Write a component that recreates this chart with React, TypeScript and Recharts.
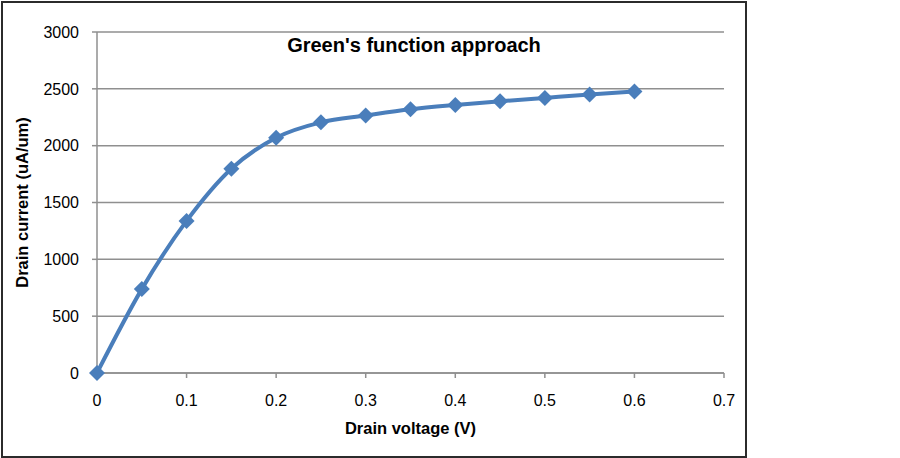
import { LineChart, Line, XAxis, YAxis, CartesianGrid } from "recharts";

const voltage = [0, 0.05, 0.1, 0.15, 0.2, 0.25, 0.3, 0.35, 0.4, 0.45, 0.5, 0.55, 0.6];
const current = [0, 738, 1338, 1797, 2070, 2205, 2265, 2320, 2358, 2390, 2420, 2450, 2476];
const xTicks = [0, 0.1, 0.2, 0.3, 0.4, 0.5, 0.6, 0.7];
const yTicks = [0, 500, 1000, 1500, 2000, 2500, 3000];

const data = voltage.map((v, i) => ({ v, id: current[i] }));

const font = "'Liberation Sans', Arial, sans-serif";
const blue = "#4a7ebb";

const Diamond = (props: any) => {
  const { cx, cy } = props;
  const r = 8;
  return (
    <polygon
      points={`${cx},${cy - r} ${cx + r},${cy} ${cx},${cy + r} ${cx - r},${cy}`}
      fill={blue}
    />
  );
};

export default function App() {
  return (
    <div style={{ position: "absolute", left: 0, top: 0, width: 900, height: 458, background: "#fff", fontFamily: font }}>
      <div
        style={{
          position: "absolute",
          left: 1,
          top: 1,
          width: 746,
          height: 457,
          border: "2px solid #2b2b2b",
          boxSizing: "border-box",
        }}
      />
      <div
        style={{
          position: "absolute",
          left: 214,
          width: 400,
          top: 33,
          textAlign: "center",
          fontSize: 20,
          fontWeight: "bold",
          color: "#000",
          lineHeight: "24px",
        }}
      >
        Green's function approach
      </div>
      <div style={{ position: "absolute", left: 0, top: 0 }}>
        <LineChart
          width={900}
          height={458}
          data={data}
          margin={{ top: 32, right: 176, left: 0, bottom: 0 }}
        >
          <CartesianGrid vertical={false} stroke="#8f8f8f" strokeWidth={1.5} />
          <XAxis
            dataKey="v"
            type="number"
            domain={[0, 0.7]}
            ticks={xTicks}
            height={85}
            stroke="#8f8f8f"
            strokeWidth={1.5}
            tickSize={5}
            tickMargin={17}
            tick={{ fill: "#000", fontSize: 16, fontFamily: font }}
            label={{
              value: "Drain voltage (V)",
              position: "insideBottom",
              offset: 24,
              style: { fontSize: 16.5, fontWeight: "bold", fill: "#000", fontFamily: font },
            }}
          />
          <YAxis
            type="number"
            domain={[0, 3000]}
            ticks={yTicks}
            width={97}
            stroke="#8f8f8f"
            strokeWidth={1.5}
            tickSize={5}
            tickMargin={13}
            tick={{ fill: "#000", fontSize: 16, fontFamily: font }}
            label={{
              value: "Drain current (uA/um)",
              angle: -90,
              position: "insideLeft",
              offset: 22,
              style: { fontSize: 16.5, fontWeight: "bold", fill: "#000", fontFamily: font, textAnchor: "middle" },
            }}
          />
          <Line
            dataKey="id"
            type="monotone"
            stroke={blue}
            strokeWidth={4}
            dot={<Diamond />}
            activeDot={false}
            isAnimationActive={false}
          />
        </LineChart>
      </div>
    </div>
  );
}
